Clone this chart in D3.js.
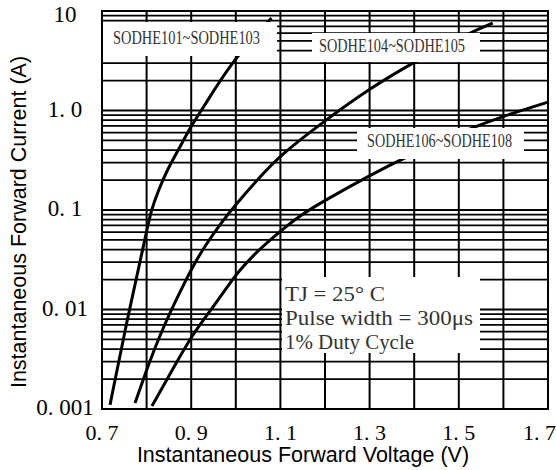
<!DOCTYPE html>
<html>
<head>
<meta charset="utf-8">
<script src="https://cdn.jsdelivr.net/npm/d3@7"></script>
<style>
  body { margin: 0; background: #fff; }
  svg { display: block; }
  .tick-label { font-family: "Liberation Serif", serif; fill: #000; }
  .axis-title { font-family: "Liberation Sans", Arial, sans-serif; font-size: 21.5px; fill: #000; }
  .note { font-family: "Liberation Serif", serif; fill: #333; }
</style>
</head>
<body>
<svg id="chart"></svg>
<script>
// Tick values and labels
const xTicks = [0.7, 0.9, 1.1, 1.3, 1.5, 1.7];
const xTickLabels = ['0. 7', '0. 9', '1. 1', '1. 3', '1. 5', '1. 7'];
const yTicks = [0.001, 0.01, 0.1, 1, 10];
const yTickLabels = ['0. 001', '0. 01', '0. 1', '1. 0', '10'];

// Series: forward voltage (V) vs forward current (A)
const seriesNames = ['SODHE101~SODHE103', 'SODHE104~SODHE105', 'SODHE106~SODHE108'];
const v1 = [0.718, 0.756, 0.796, 0.810, 0.827, 0.846, 0.871, 0.901, 0.923, 0.993, 1.080];
const i1 = [0.0011, 0.00783, 0.0499, 0.100, 0.159, 0.252, 0.401, 0.714, 1.0, 3.22, 8.5];
const v2 = [0.774, 0.804, 0.827, 0.857, 0.879, 0.903, 0.932, 0.969, 0.999, 1.050, 1.100, 1.201, 1.302, 1.399, 1.527, 1.576];
const i2 = [0.00115, 0.00277, 0.00514, 0.0103, 0.0163, 0.0269, 0.0445, 0.0762, 0.112, 0.205, 0.357, 0.80, 1.68, 3.07, 6.15, 7.57];
const v3 = [0.812, 0.864, 0.902, 0.947, 0.984, 1.003, 1.046, 1.100, 1.145, 1.201, 1.302, 1.376, 1.527, 1.594, 1.702];
const i3 = [0.00107, 0.00277, 0.00554, 0.0103, 0.0176, 0.0233, 0.0379, 0.0615, 0.089, 0.126, 0.225, 0.333, 0.667, 0.86, 1.22];

const noteLines = ['TJ = 25° C', 'Pulse width = 300μs', '1% Duty Cycle'];

const containerWidth = 556, containerHeight = 470;
const margin = {top: 11, right: 8, bottom: 61, left: 102};
const width = containerWidth - margin.left - margin.right;
const height = containerHeight - margin.top - margin.bottom;

const svg = d3.select('#chart')
    .attr('width', containerWidth)
    .attr('height', containerHeight);

const chart = svg.append('g')
    .attr('transform', `translate(${margin.left},${margin.top})`);

const xScale = d3.scaleLinear().domain([0.7, 1.7]).range([0, width]);
const yScale = d3.scaleLog().domain([0.001, 10]).range([height, 0]);

// Grid: vertical every 0.1 V, horizontal at 1..9 of every decade
const xGrid = d3.range(0.7, 1.7001, 0.1);
const yGrid = [];
[0.001, 0.01, 0.1, 1].forEach(d => {
  for (let k = 1; k <= 9; k++) yGrid.push(d * k);
});

chart.append('g').selectAll('line')
    .data(yGrid)
  .join('line')
    .attr('x1', 0)
    .attr('x2', width)
    .attr('y1', d => yScale(d))
    .attr('y2', d => yScale(d))
    .attr('stroke', '#000')
    .attr('stroke-width', 1.8);

chart.append('g').selectAll('line')
    .data(xGrid)
  .join('line')
    .attr('x1', d => xScale(d))
    .attr('x2', d => xScale(d))
    .attr('y1', 0)
    .attr('y2', height)
    .attr('stroke', '#000')
    .attr('stroke-width', 2);

chart.append('rect')
    .attr('width', width)
    .attr('height', height)
    .attr('fill', 'none')
    .attr('stroke', '#000')
    .attr('stroke-width', 2);

// Curves
const line = d3.line()
    .x(d => xScale(d[0]))
    .y(d => yScale(d[1]))
    .curve(d3.curveBasis);

const curves = [d3.zip(v1, i1), d3.zip(v2, i2), d3.zip(v3, i3)];
chart.append('g').selectAll('path')
    .data(curves)
  .join('path')
    .attr('d', line)
    .attr('fill', 'none')
    .attr('stroke', '#000')
    .attr('stroke-width', 3);

// Series label boxes (white boxes covering grid)
const labelBoxes = [
  {x: 1, y: 11, w: 174, h: 34, tx: 11, ty: 33, tl: 147},
  {x: 210, y: 22, w: 168, h: 29, tx: 217, ty: 41, tl: 146},
  {x: 255, y: 117, w: 167, h: 31, tx: 265, ty: 136, tl: 145}
];
labelBoxes.forEach((b, i) => {
  chart.append('rect')
      .attr('x', b.x).attr('y', b.y)
      .attr('width', b.w).attr('height', b.h)
      .attr('fill', '#fff');
  chart.append('text')
      .attr('class', 'note')
      .attr('x', b.tx).attr('y', b.ty)
      .attr('textLength', b.tl)
      .attr('lengthAdjust', 'spacingAndGlyphs')
      .style('font-size', '18px')
      .text(seriesNames[i]);
});

// Conditions note
chart.append('rect')
    .attr('x', 180).attr('y', 266)
    .attr('width', 198).attr('height', 76)
    .attr('fill', '#fff');
const noteLengths = [100, 188, 129];
chart.append('g').selectAll('text')
    .data(noteLines)
  .join('text')
    .attr('class', 'note')
    .attr('x', 183)
    .attr('y', (d, i) => 290 + i * 24)
    .attr('textLength', (d, i) => noteLengths[i])
    .attr('lengthAdjust', 'spacingAndGlyphs')
    .style('font-size', '20px')
    .text(d => d);

// Tick labels
chart.append('g').selectAll('text')
    .data(xTicks)
  .join('text')
    .attr('class', 'tick-label')
    .attr('x', (d, i) => i === xTicks.length - 1 ? width + 8 : xScale(d))
    .attr('y', height + 31)
    .attr('text-anchor', (d, i) => i === xTicks.length - 1 ? 'end' : 'middle')
    .style('font-size', '22px')
    .text((d, i) => xTickLabels[i]);

chart.append('g').selectAll('text')
    .data(yTicks)
  .join('text')
    .attr('class', 'tick-label')
    .attr('x', -37)
    .attr('y', d => yScale(d) + (d === 10 ? 11 : 6))
    .attr('text-anchor', 'middle')
    .style('font-size', '23px')
    .text((d, i) => yTickLabels[i]);

// Axis titles
svg.append('text')
    .attr('class', 'axis-title')
    .attr('x', 303)
    .attr('y', 462)
    .attr('text-anchor', 'middle')
    .text('Instantaneous Forward Voltage (V)');

svg.append('text')
    .attr('class', 'axis-title')
    .attr('transform', 'translate(26,222) rotate(-90)')
    .attr('text-anchor', 'middle')
    .text('Instantaneous Forward Current (A)');
</script>
</body>
</html>
